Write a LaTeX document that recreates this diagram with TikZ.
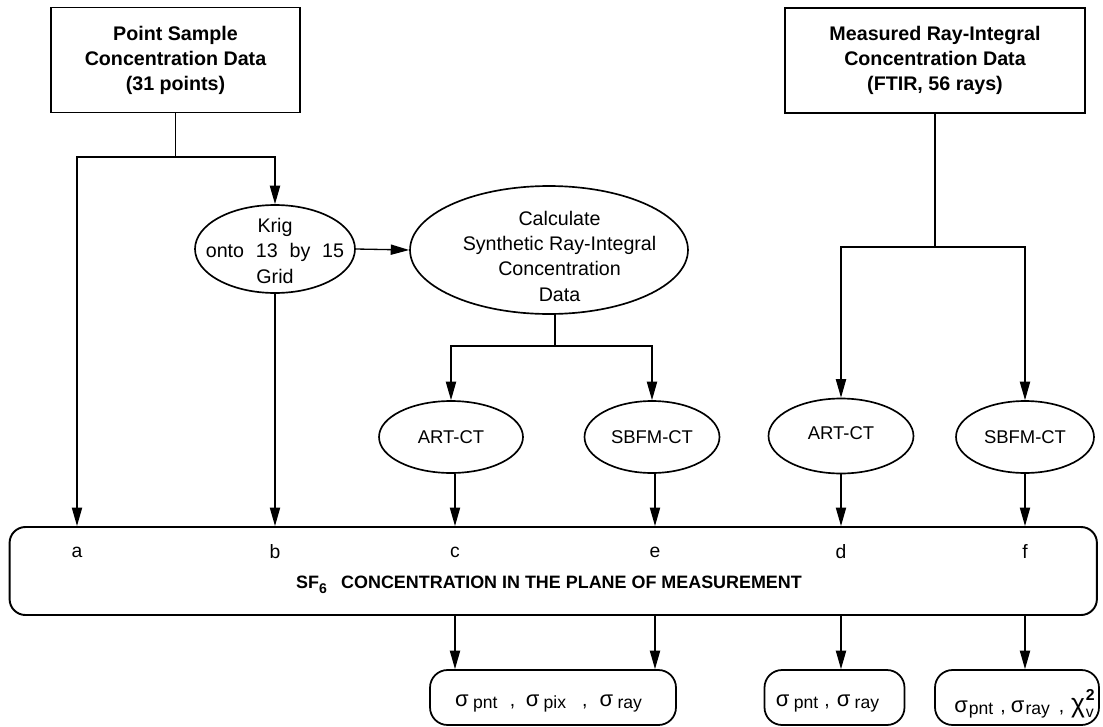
\documentclass[tikz,border=0pt]{standalone}
\usepackage{fontspec}
\setmainfont{Liberation Sans}
\usetikzlibrary{arrows.meta,shapes.geometric}
\newcommand{\sgm}[1]{{\fontsize{12.5}{14}\selectfont σ}\hspace{2.5pt}{\fontsize{10}{12}\selectfont\raisebox{-1.2pt}{#1}}}
\newcommand{\sgmt}[1]{{\fontsize{12.5}{14}\selectfont σ}\hspace{0.6pt}{\fontsize{10}{12}\selectfont\raisebox{-1.2pt}{#1}}}
\newcommand{\chisq}{{\fontsize{15}{15}\selectfont χ}\hspace{0.5pt}\makebox[0pt][l]{\raisebox{7pt}{\fontsize{9}{9}\selectfont\bfseries 2}}\raisebox{-3pt}{\fontsize{9}{9}\selectfont v}\hspace{5pt}}
\begin{document}
\begin{tikzpicture}[x=0.02cm,y=-0.02cm,
  font=\fontsize{11}{14}\selectfont,
  box/.style={draw, rectangle, inner sep=0pt, align=center, font=\fontsize{11.2}{14.2}\selectfont\bfseries, line width=1pt},
  ell/.style={draw, ellipse, inner sep=0pt, line width=0.95pt},
  elltext/.style={align=center, inner sep=0pt, font=\fontsize{11.2}{14.4}\selectfont},
  cttext/.style={inner sep=0pt, font=\fontsize{10.5}{12}\selectfont},
  rbox/.style={draw, rectangle, rounded corners=10pt, inner sep=0pt, line width=1pt},
  restext/.style={inner sep=0pt},
  arr/.style={-{Triangle[length=10.5pt,width=5.8pt]}, line width=0.75pt},
  ln/.style={line width=0.75pt},
  lett/.style={inner sep=0pt, font=\fontsize{11}{14}\selectfont}]

\useasboundingbox (0,0) rectangle (1103,727);

% top boxes
\node[box, minimum width=4.97cm, minimum height=2.1cm] (ps) at (175.5,60)
  {Point Sample\\Concentration Data\\(31 points)};
\node[box, minimum width=6.0cm, minimum height=2.1cm] (mr) at (935,60.5)
  {Measured Ray-Integral\\Concentration Data\\(FTIR, 56 rays)};

% ellipses
\node[ell, minimum width=3.2cm, minimum height=1.76cm,
  label={[elltext, yshift=-1pt]center:Krig\\onto\hspace{0.6em}13\hspace{0.6em}by\hspace{0.6em}15\\Grid}] (krig) at (275,249) {};
\node[ell, minimum width=5.56cm, minimum height=2.56cm,
  label={[elltext, xshift=6pt, yshift=-3.5pt]center:Calculate\\Synthetic Ray-Integral\\Concentration\\Data}] (calc) at (549,250) {};
\node[ell, minimum width=2.88cm, minimum height=1.44cm,
  label={[cttext]center:ART-CT}] (art1) at (451,437) {};
\node[ell, minimum width=2.7cm, minimum height=1.44cm,
  label={[cttext]center:SBFM-CT}] (sbfm1) at (652,437) {};
\node[ell, minimum width=2.9cm, minimum height=1.5cm,
  label={[cttext, yshift=1.5pt]center:ART-CT}] (art2) at (841,436) {};
\node[ell, minimum width=2.76cm, minimum height=1.44cm,
  label={[cttext]center:SBFM-CT}] (sbfm2) at (1025,437) {};

% big box
\node[rbox, rounded corners=9pt, line width=1.1pt, minimum width=21.75cm, minimum height=1.76cm] (big) at (553.25,571) {};
\node[lett] (la) at (77,552) {a};
\node[lett] (lb) at (krig |- la) {b};
\node[lett] (lc) at (455,552) {c};
\node[lett] (le) at (655,552) {e};
\node[lett] (ld) at (art2 |- la) {d};
\node[lett] (lf) at (sbfm2 |- la) {f};
\node[inner sep=0pt, font=\fontsize{10.2}{12}\selectfont\bfseries] (title) at (549,585)
  {SF\raisebox{-2.5pt}{\fontsize{8}{8}\selectfont 6}\hspace{0.8em}CONCENTRATION IN THE PLANE OF MEASUREMENT};

% result boxes
\node[rbox, minimum width=4.92cm, minimum height=1.1cm,
  label={[restext, xshift=-2.5pt, yshift=-3.5pt]center:\sgm{pnt}\hspace{7pt},\hspace{6pt}\sgm{pix}\hspace{9pt},\hspace{7pt}\sgm{ray}}] (res1) at (553,697.5) {};
\node[rbox, minimum width=2.8cm, minimum height=1.1cm,
  label={[restext, xshift=-4pt, yshift=-3.5pt]center:\sgm{pnt}\hspace{3.5pt},\hspace{4pt}\sgm{ray}}] (res2) at (834.5,697.5) {};
\node[rbox, minimum width=3.28cm, minimum height=1.1cm,
  label={[restext, xshift=4pt, yshift=-3.5pt]center:\sgmt{pnt}\hspace{4pt},\hspace{3pt}\sgmt{ray}\hspace{5pt},\hspace{4pt}\chisq}] (res3) at (1017,697.5) {};

% connectors: left branch
\coordinate (j1) at (ps.south |- 0,157);
\draw[ln] (ps.south) -- (j1);
\draw[arr] (j1) -| (la |- big.north);
\draw[arr] (j1) -| (krig.north);
\draw[arr] (krig.south) -- (krig.south |- big.north);
\draw[arr] (krig.east) -- (calc.west);
\coordinate (j2) at (555,346);
\draw[ln] (calc.south -| j2) -- (j2);
\draw[arr] (j2) -| (art1.north);
\draw[arr] (j2) -| (sbfm1.north);
\draw[arr] (art1.south -| lc) -- (lc |- big.north);
\draw[arr] (sbfm1.south -| le) -- (le |- big.north);

% right branch
\coordinate (j3) at (mr.south |- 0,247);
\draw[ln] (mr.south) -- (j3);
\draw[arr] (j3) -| (art2.north);
\draw[arr] (j3) -| (sbfm2.north);
\draw[arr] (art2.south) -- (art2.south |- big.north);
\draw[arr] (sbfm2.south) -- (sbfm2.south |- big.north);

% outputs
\draw[arr] (lc |- big.south) -- (lc |- res1.north);
\draw[arr] (le |- big.south) -- (le |- res1.north);
\draw[arr] (ld |- big.south) -- (ld |- res2.north);
\draw[arr] (lf |- big.south) -- (lf |- res3.north);
\end{tikzpicture}
\end{document}
